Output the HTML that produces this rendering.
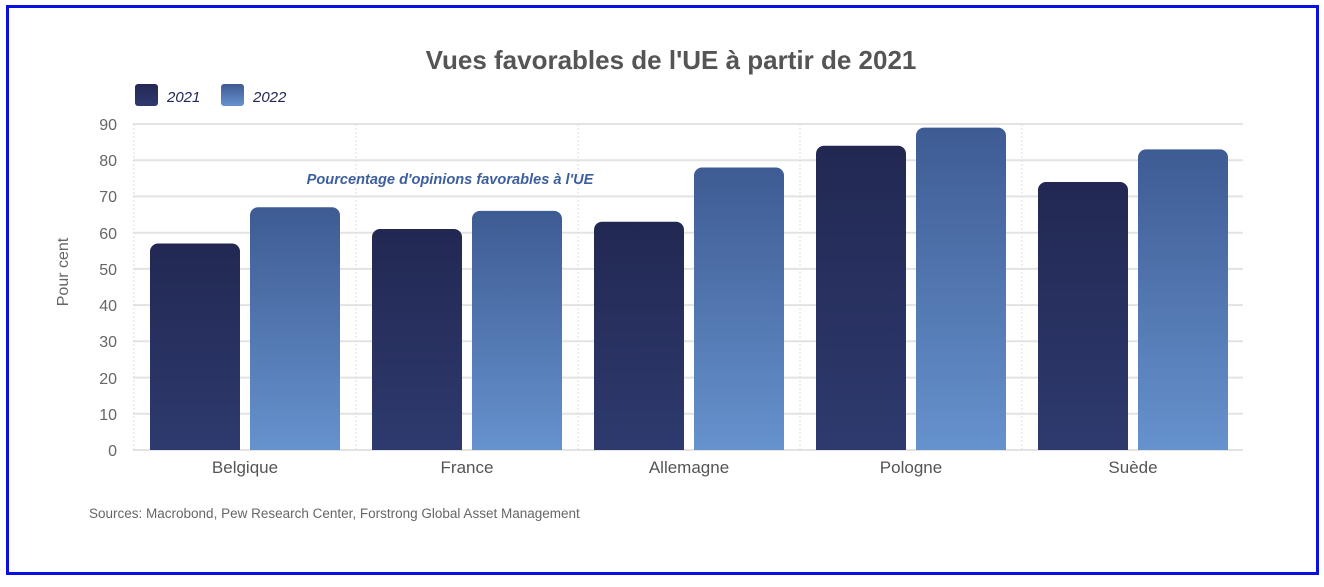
<!DOCTYPE html>
<html><head><meta charset="utf-8"><style>
body{margin:0;background:#fff;width:1324px;height:582px;overflow:hidden;font-family:"Liberation Sans",sans-serif}
</style></head><body>
<svg width="1324" height="582" xmlns="http://www.w3.org/2000/svg">
<defs>
<linearGradient id="d" x1="0" y1="0" x2="0" y2="1"><stop offset="0" stop-color="#222852"/><stop offset="1" stop-color="#2e3a6e"/></linearGradient>
<linearGradient id="l" x1="0" y1="0" x2="0" y2="1"><stop offset="0" stop-color="#3e5b93"/><stop offset="1" stop-color="#6692cd"/></linearGradient>
</defs>
<rect x="7.5" y="6.5" width="1310" height="567" fill="#fff" stroke="#0a10e0" stroke-width="3"/>
<text x="671" y="69" text-anchor="middle" font-size="26" font-weight="bold" fill="#555">Vues favorables de l'UE à partir de 2021</text>
<rect x="135" y="84" width="23" height="22" rx="3" fill="url(#d)"/>
<text x="167" y="102" font-size="15" font-style="italic" fill="#222852">2021</text>
<rect x="221" y="84" width="23" height="22" rx="3" fill="url(#l)"/>
<text x="253" y="102" font-size="15" font-style="italic" fill="#222852">2022</text>
<g stroke="#e3e3e3" stroke-width="2">
<line x1="133" x2="1243" y1="450" y2="450"/><line x1="133" x2="1243" y1="413.8" y2="413.8"/><line x1="133" x2="1243" y1="377.6" y2="377.6"/><line x1="133" x2="1243" y1="341.3" y2="341.3"/><line x1="133" x2="1243" y1="305.1" y2="305.1"/><line x1="133" x2="1243" y1="268.9" y2="268.9"/><line x1="133" x2="1243" y1="232.7" y2="232.7"/><line x1="133" x2="1243" y1="196.4" y2="196.4"/><line x1="133" x2="1243" y1="160.2" y2="160.2"/><line x1="133" x2="1243" y1="124" y2="124"/>
</g>
<g stroke="#ddd" stroke-width="1" stroke-dasharray="2,2">
<line x1="134" x2="134" y1="124" y2="450"/><line x1="356" x2="356" y1="124" y2="450"/><line x1="578" x2="578" y1="124" y2="450"/><line x1="800" x2="800" y1="124" y2="450"/><line x1="1022" x2="1022" y1="124" y2="450"/>
</g>
<g font-size="16" fill="#666" text-anchor="end">
<text x="117" y="456">0</text><text x="117" y="420">10</text><text x="117" y="384">20</text><text x="117" y="347">30</text><text x="117" y="311">40</text><text x="117" y="275">50</text><text x="117" y="239">60</text><text x="117" y="202">70</text><text x="117" y="166">80</text><text x="117" y="130">90</text>
</g>
<text transform="translate(68,272) rotate(-90)" text-anchor="middle" font-size="16" fill="#666">Pour cent</text>
<text x="450" y="184" text-anchor="middle" font-size="14.6" font-style="italic" font-weight="bold" fill="#3d5f9e">Pourcentage d'opinions favorables à l'UE</text>
<g>
<path d="M150,450V251.5a8,8 0 0 1 8,-8H232a8,8 0 0 1 8,8V450Z" fill="url(#d)"/>
<path d="M250,450V215.3a8,8 0 0 1 8,-8H332a8,8 0 0 1 8,8V450Z" fill="url(#l)"/>
<path d="M372,450V237a8,8 0 0 1 8,-8H454a8,8 0 0 1 8,8V450Z" fill="url(#d)"/>
<path d="M472,450V218.9a8,8 0 0 1 8,-8H554a8,8 0 0 1 8,8V450Z" fill="url(#l)"/>
<path d="M594,450V229.8a8,8 0 0 1 8,-8H676a8,8 0 0 1 8,8V450Z" fill="url(#d)"/>
<path d="M694,450V175.5a8,8 0 0 1 8,-8H776a8,8 0 0 1 8,8V450Z" fill="url(#l)"/>
<path d="M816,450V153.8a8,8 0 0 1 8,-8H898a8,8 0 0 1 8,8V450Z" fill="url(#d)"/>
<path d="M916,450V135.6a8,8 0 0 1 8,-8H998a8,8 0 0 1 8,8V450Z" fill="url(#l)"/>
<path d="M1038,450V190a8,8 0 0 1 8,-8H1120a8,8 0 0 1 8,8V450Z" fill="url(#d)"/>
<path d="M1138,450V157.4a8,8 0 0 1 8,-8H1220a8,8 0 0 1 8,8V450Z" fill="url(#l)"/>
</g>
<g font-size="17" fill="#555" text-anchor="middle">
<text x="245" y="473">Belgique</text><text x="467" y="473">France</text><text x="689" y="473">Allemagne</text><text x="911" y="473">Pologne</text><text x="1133" y="473">Suède</text>
</g>
<text x="89" y="518" font-size="13.5" fill="#666">Sources: Macrobond, Pew Research Center, Forstrong Global Asset Management</text>
</svg>
</body></html>
